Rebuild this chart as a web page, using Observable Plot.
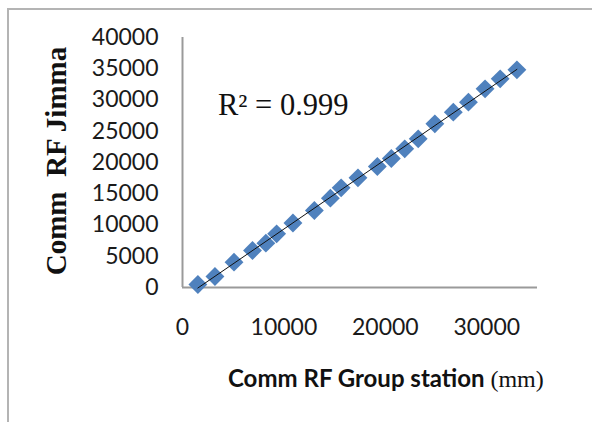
<!DOCTYPE html>
<html>
<head>
<meta charset="utf-8">
<script src="https://cdn.jsdelivr.net/npm/d3@7"></script>
<script src="https://cdn.jsdelivr.net/npm/@observablehq/plot@0.6"></script>
<style>
  html, body { margin: 0; padding: 0; background: #fff; }
  #wrap { position: relative; width: 592px; height: 422px; overflow: hidden; }
  #frame { position: absolute; left: 7px; top: 8px; width: 700px; height: 600px;
           border-left: 2px solid #b4b4b4; border-top: 2px solid #b4b4b4; }
  #chart { position: absolute; left: 0; top: 0; }
</style>
</head>
<body>
<div id="wrap"><div id="frame"></div><div id="chart"></div></div>
<script>
// Comm RF Group station (mm) vs Comm RF Jimma
const groupStation = [1515, 3200, 5080, 6900, 8220, 9280, 10890, 13000, 14580, 15640, 17300,
                      19210, 20590, 21910, 23240, 24880, 26700, 28190, 29830, 31320, 32970];
const jimma        = [480, 1760, 4050, 5920, 7090, 8590, 10320, 12320, 14290, 15950, 17550,
                      19360, 20640, 22190, 23790, 26190, 28050, 29650, 31790, 33390, 34830];
const xTicks = [0, 10000, 20000, 30000];
const yTicks = [0, 5000, 10000, 15000, 20000, 25000, 30000, 35000, 40000];
const r2Label = "R² = 0.999";
const xTitleMain = "Comm RF Group station";
const xTitleUnit = "(mm)";
const yTitle = "Comm  RF Jimma";

const data = groupStation.map((x, i) => ({x, y: jimma[i]}));

const plot = Plot.plot({
  width: 592, height: 422,
  marginLeft: 182, marginTop: 37, marginRight: 55, marginBottom: 135,
  style: {fontFamily: "Lato, sans-serif", fontSize: "23px", color: "#1a1a1a", background: "transparent"},
  x: {domain: [0, 35000]},
  y: {domain: [0, 40000]},
  marks: [
    Plot.axisY({ticks: yTicks, tickSize: 0, tickPadding: 24, tickFormat: d => String(d), label: null}),
    Plot.axisX({ticks: xTicks, tickSize: 0, tickPadding: 31, tickFormat: d => String(d), label: null}),
    Plot.ruleX([0], {y1: 0, y2: 40000, stroke: "#9a9a9a", strokeWidth: 2}),
    Plot.ruleY([0], {x1: 0, x2: 35000, stroke: "#9a9a9a", strokeWidth: 2}),
    Plot.dot(data, {x: "x", y: "y", symbol: "diamond2", r: 8.5, fill: "#4f81bd", stroke: "none"}),
    Plot.linearRegressionY(data, {x: "x", y: "y", stroke: "#111", strokeWidth: 1, ci: 0})
  ]
});
document.getElementById("chart").appendChild(plot);

const svg = d3.select(plot);
svg.append("text")
  .attr("x", 218).attr("y", 115)
  .attr("text-anchor", "start")
  .attr("font-family", "'Liberation Serif', serif").attr("font-size", 30.5)
  .attr("fill", "#111")
  .text(r2Label);

const xt = svg.append("text")
  .attr("x", 228).attr("y", 387)
  .attr("text-anchor", "start")
  .attr("fill", "#111");
xt.append("tspan").attr("font-family", "Lato, sans-serif").attr("font-weight", "bold").attr("font-size", 24).text(xTitleMain + " ");
xt.append("tspan").attr("font-family", "'Liberation Serif', serif").attr("font-size", 24).text(xTitleUnit);

svg.append("text")
  .attr("transform", "translate(66,161) rotate(-90)")
  .attr("text-anchor", "middle")
  .attr("font-family", "'Liberation Serif', serif").attr("font-weight", "bold").attr("font-size", 29)
  .attr("fill", "#111")
  .text(yTitle);
</script>
</body>
</html>
